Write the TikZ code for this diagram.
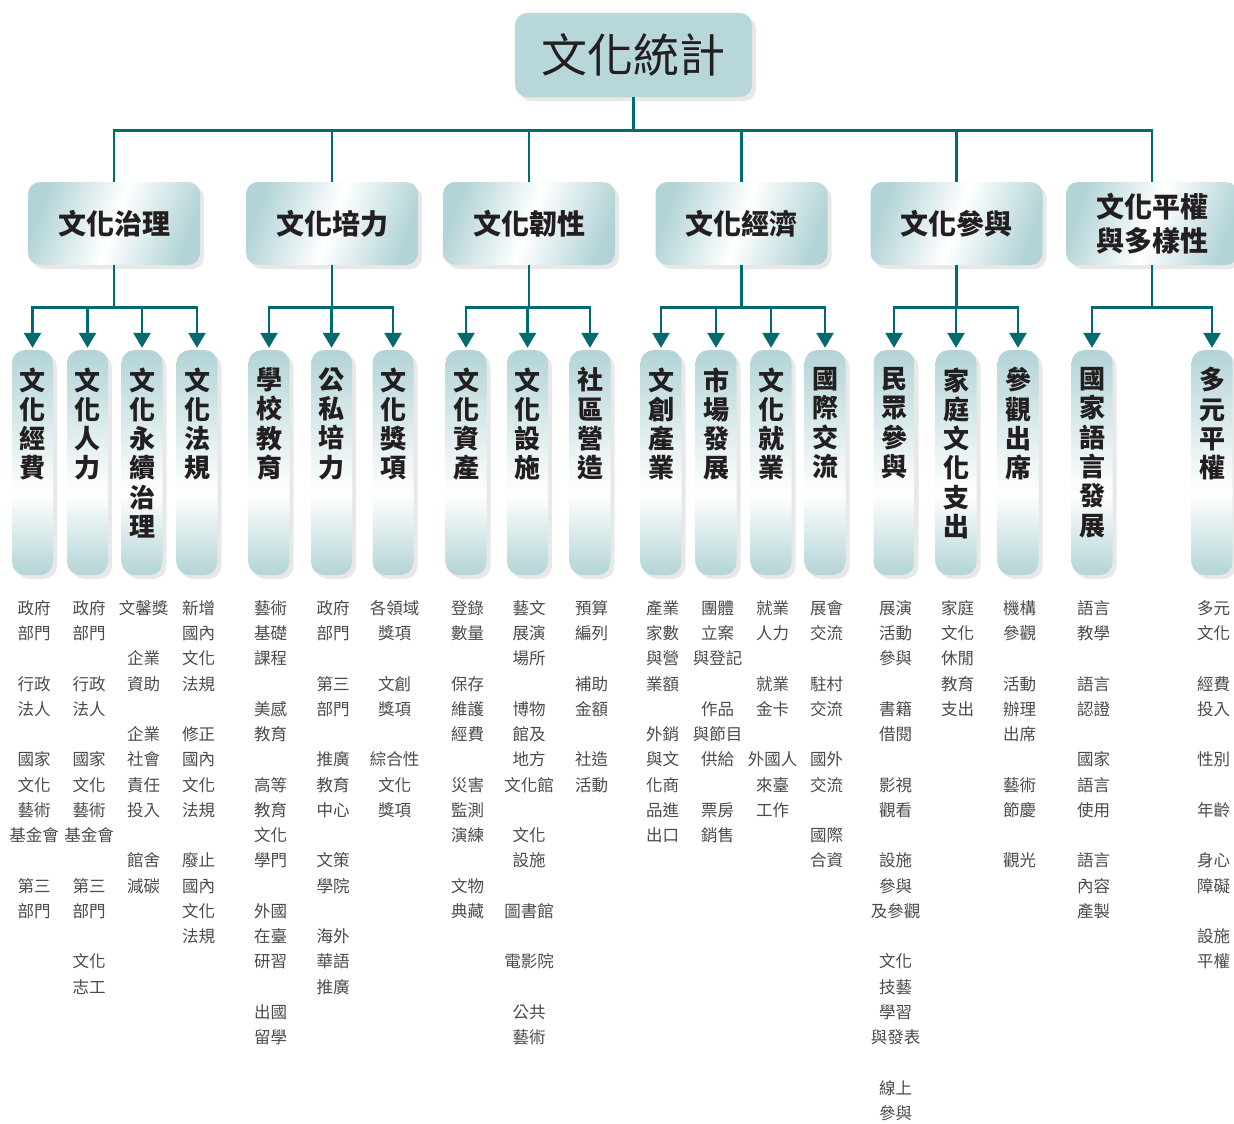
\documentclass[tikz,border=0pt]{standalone}
\usepackage{fontspec}
\setmainfont{Noto Sans CJK TC}
\usepackage{xcolor}
\usetikzlibrary{arrows.meta,positioning,shadows}
\definecolor{cslteal}{HTML}{006B6E}
\definecolor{cslbox}{HTML}{B3D4D7}
\definecolor{cslroot}{HTML}{B8D7DA}
\definecolor{csltext}{HTML}{231F20}
\definecolor{cslgray}{HTML}{4A4A4A}
\pgfdeclareverticalshading{pillshade}{100bp}{color(0bp)=(cslbox); color(25bp)=(cslbox); color(43bp)=(white); color(75bp)=(cslbox); color(100bp)=(cslbox)}
\newcommand\vtext[1]{\parbox[c][190pt][t]{30pt}{\centering #1}}
\tikzset{
  softshadow/.style={drop shadow={shadow xshift=4pt,shadow yshift=-4pt,opacity=.18}},
  rootbox/.style={rounded corners=12pt,fill=cslroot,minimum width=237pt,minimum height=84pt,font=\fontsize{46}{50}\selectfont,text=csltext,softshadow},
  dimbox/.style={rounded corners=12pt,left color=cslbox,right color=cslbox,middle color=white,shading angle=70,minimum width=172pt,minimum height=83pt,align=center,font=\bfseries\fontsize{28}{34}\selectfont,text=csltext,softshadow},
  pill/.style={rounded corners=13pt,shading=pillshade,minimum width=41pt,minimum height=225pt,inner sep=0pt,font=\bfseries\fontsize{26}{29.3}\selectfont,text=csltext,softshadow},
  itemlist/.style={below=25pt of #1,xshift=1.5pt,inner sep=0pt,align=center,font=\fontsize{16.5}{25.25}\selectfont,text=cslgray},
  ln/.style={draw=cslteal,line width=2.6pt},
  ar/.style={ln,-{Triangle[length=15pt,width=17pt]},shorten >=2pt},
}
\begin{document}
\begin{tikzpicture}[x=1pt,y=-1pt]
  \useasboundingbox (0,0) rectangle (1234,1124);
  \node[rootbox] (root) at (633.5,55) {文化統計};
  % dimensions
  \node[dimbox] (gov) at (114,223.5) {文化治理};
  \node[dimbox] (cap) at (332,223.5) {文化培力};
  \node[dimbox] (res) at (529,223.5) {文化韌性};
  \node[dimbox] (eco) at (741.5,223.5) {文化經濟};
  \node[dimbox] (par) at (956.5,223.5) {文化參與};
  \node[dimbox] (eq) at (1152,223.5) {文化平權\\與多樣性};
  \draw[ln] (root.south) -- ++(0,33) -| (gov.north);
  \draw[ln] (root.south) -- ++(0,33) -| (cap.north);
  \draw[ln] (root.south) -- ++(0,33) -| (res.north);
  \draw[ln] (root.south) -- ++(0,33) -| (eco.north);
  \draw[ln] (root.south) -- ++(0,33) -| (par.north);
  \draw[ln] (root.south) -- ++(0,33) -| (eq.north);
  % indicators
  \node[pill] (fund) at (32.5,462.5) {\vtext{文\\化\\經\\費}};
  \node[pill] (staff) at (87.5,462.5) {\vtext{文\\化\\人\\力}};
  \node[pill] (sust) at (142,462.5) {\vtext{文\\化\\永\\續\\治\\理}};
  \node[pill] (law) at (197,462.5) {\vtext{文\\化\\法\\規}};
  \node[pill] (school) at (269,462.5) {\vtext{學\\校\\教\\育}};
  \node[pill] (train) at (331.5,462.5) {\vtext{公\\私\\培\\力}};
  \node[pill] (award) at (393,462.5) {\vtext{文\\化\\獎\\項}};
  \node[pill] (herit) at (466,462.5) {\vtext{文\\化\\資\\產}};
  \node[pill] (facil) at (527.5,462.5) {\vtext{文\\化\\設\\施}};
  \node[pill] (commun) at (590,462.5) {\vtext{社\\區\\營\\造}};
  \node[pill] (indus) at (661,462.5) {\vtext{文\\創\\產\\業}};
  \node[pill] (market) at (716,462.5) {\vtext{市\\場\\發\\展}};
  \node[pill] (employ) at (771,462.5) {\vtext{文\\化\\就\\業}};
  \node[pill] (intl) at (825,462.5) {\vtext{國\\際\\交\\流}};
  \node[pill] (public) at (894,462.5) {\vtext{民\\眾\\參\\與}};
  \node[pill] (house) at (956,462.5) {\vtext{家\\庭\\文\\化\\支\\出}};
  \node[pill] (attend) at (1018,462.5) {\vtext{參\\觀\\出\\席}};
  \node[pill] (lang) at (1092,462.5) {\vtext{國\\家\\語\\言\\發\\展}};
  \node[pill] (multi) at (1212,462.5) {\vtext{多\\元\\平\\權}};
  \draw[ar] (gov.south) -- ++(0,42) -| (fund.north);
  \draw[ar] (gov.south) -- ++(0,42) -| (staff.north);
  \draw[ar] (gov.south) -- ++(0,42) -| (sust.north);
  \draw[ar] (gov.south) -- ++(0,42) -| (law.north);
  \draw[ar] (cap.south) -- ++(0,42) -| (school.north);
  \draw[ar] (cap.south) -- ++(0,42) -| (train.north);
  \draw[ar] (cap.south) -- ++(0,42) -| (award.north);
  \draw[ar] (res.south) -- ++(0,42) -| (herit.north);
  \draw[ar] (res.south) -- ++(0,42) -| (facil.north);
  \draw[ar] (res.south) -- ++(0,42) -| (commun.north);
  \draw[ar] (eco.south) -- ++(0,42) -| (indus.north);
  \draw[ar] (eco.south) -- ++(0,42) -| (market.north);
  \draw[ar] (eco.south) -- ++(0,42) -| (employ.north);
  \draw[ar] (eco.south) -- ++(0,42) -| (intl.north);
  \draw[ar] (par.south) -- ++(0,42) -| (public.north);
  \draw[ar] (par.south) -- ++(0,42) -| (house.north);
  \draw[ar] (par.south) -- ++(0,42) -| (attend.north);
  \draw[ar] (eq.south) -- ++(0,42) -| (lang.north);
  \draw[ar] (eq.south) -- ++(0,42) -| (multi.north);
  % statistics items
  \node[itemlist=fund] (fund-t) {政府\\部門\\~\\行政\\法人\\~\\國家\\文化\\藝術\\基金會\\~\\第三\\部門};
  \node[itemlist=staff] (staff-t) {政府\\部門\\~\\行政\\法人\\~\\國家\\文化\\藝術\\基金會\\~\\第三\\部門\\~\\文化\\志工};
  \node[itemlist=sust] (sust-t) {文馨獎\\~\\企業\\資助\\~\\企業\\社會\\責任\\投入\\~\\館舍\\減碳};
  \node[itemlist=law] (law-t) {新增\\國內\\文化\\法規\\~\\修正\\國內\\文化\\法規\\~\\廢止\\國內\\文化\\法規};
  \node[itemlist=school] (school-t) {藝術\\基礎\\課程\\~\\美感\\教育\\~\\高等\\教育\\文化\\學門\\~\\外國\\在臺\\研習\\~\\出國\\留學};
  \node[itemlist=train] (train-t) {政府\\部門\\~\\第三\\部門\\~\\推廣\\教育\\中心\\~\\文策\\學院\\~\\海外\\華語\\推廣};
  \node[itemlist=award] (award-t) {各領域\\獎項\\~\\文創\\獎項\\~\\綜合性\\文化\\獎項};
  \node[itemlist=herit] (herit-t) {登錄\\數量\\~\\保存\\維護\\經費\\~\\災害\\監測\\演練\\~\\文物\\典藏};
  \node[itemlist=facil] (facil-t) {藝文\\展演\\場所\\~\\博物\\館及\\地方\\文化館\\~\\文化\\設施\\~\\圖書館\\~\\電影院\\~\\公共\\藝術};
  \node[itemlist=commun] (commun-t) {預算\\編列\\~\\補助\\金額\\~\\社造\\活動};
  \node[itemlist=indus] (indus-t) {產業\\家數\\與營\\業額\\~\\外銷\\與文\\化商\\品進\\出口};
  \node[itemlist=market] (market-t) {團體\\立案\\與登記\\~\\作品\\與節目\\供給\\~\\票房\\銷售};
  \node[itemlist=employ] (employ-t) {就業\\人力\\~\\就業\\金卡\\~\\外國人\\來臺\\工作};
  \node[itemlist=intl] (intl-t) {展會\\交流\\~\\駐村\\交流\\~\\國外\\交流\\~\\國際\\合資};
  \node[itemlist=public] (public-t) {展演\\活動\\參與\\~\\書籍\\借閱\\~\\影視\\觀看\\~\\設施\\參與\\及參觀\\~\\文化\\技藝\\學習\\與發表\\~\\線上\\參與};
  \node[itemlist=house] (house-t) {家庭\\文化\\休閒\\教育\\支出};
  \node[itemlist=attend] (attend-t) {機構\\參觀\\~\\活動\\辦理\\出席\\~\\藝術\\節慶\\~\\觀光};
  \node[itemlist=lang] (lang-t) {語言\\教學\\~\\語言\\認證\\~\\國家\\語言\\使用\\~\\語言\\內容\\產製};
  \node[itemlist=multi] (multi-t) {多元\\文化\\~\\經費\\投入\\~\\性別\\~\\年齡\\~\\身心\\障礙\\~\\設施\\平權};
\end{tikzpicture}
\end{document}
